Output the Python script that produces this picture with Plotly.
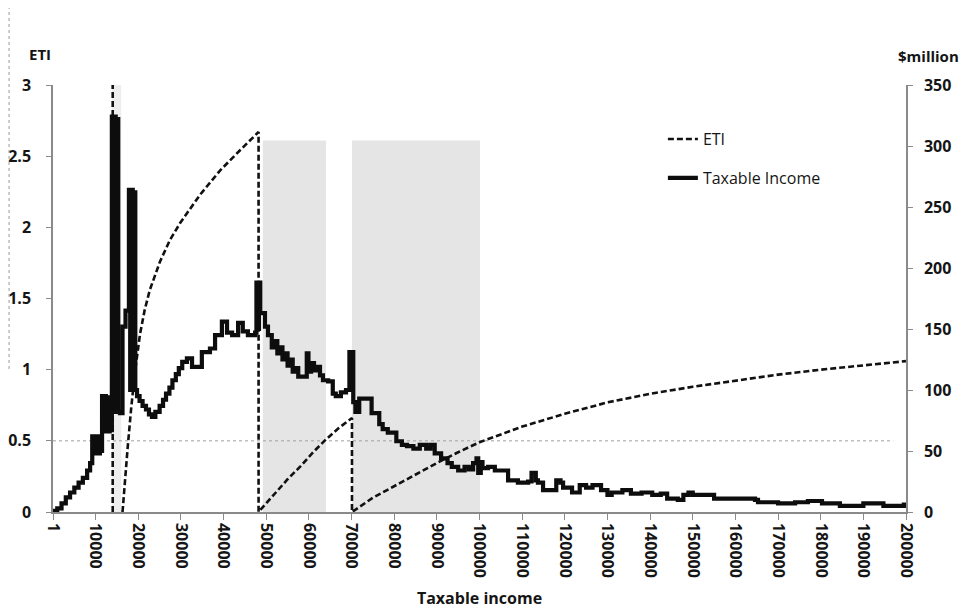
import plotly.graph_objects as go

# ETI (left axis) - dashed line, segments separated by None
eti_x = [14000, 14000, None,
         16300, 16800, 17500, 18300, 19200, 20400, 21500, 22700, 25100, 27400, 29800, 34500, 39200, 43800,
         48200, 48200,
         50000, 52000, 55000, 58000, 61000, 64000, 67000, 70100, 70100,
         75000, 79700, 85000, 90000, 95000, 100000, 110000, 120000, 130000, 140000, 150000, 160000,
         170000, 180000, 190000, 200000]
eti_y = [0, 3.1, None,
         0, 0.2, 0.45, 0.72, 0.98, 1.25, 1.42, 1.56, 1.76, 1.91, 2.03, 2.23, 2.40, 2.54,
         2.67, 0,
         0.06, 0.13, 0.23, 0.32, 0.42, 0.51, 0.59, 0.66, 0,
         0.10, 0.176, 0.265, 0.344, 0.42, 0.49, 0.60, 0.69, 0.77, 0.83, 0.88, 0.925,
         0.965, 1.0, 1.03, 1.06]

# Taxable income ($million, right axis) - step line
ti_x = [0, 1000, 2000, 3000, 4000, 5000, 6000, 7000, 8000, 8700,
        9200, 9500, 9800, 10100, 10400, 10700, 11000, 11300,
        11500, 11800, 12100, 12400, 12700, 13000, 13300, 13600,
        13800, 14100, 14400, 14700, 15000, 15300, 15700,
        16300, 17000, 17800, 18100, 18400, 18700, 19000, 19300, 19700,
        20300, 21000, 21800, 22500, 23200, 24000, 25000, 25800, 26500, 27300, 28000, 28800,
        29500, 30300, 31400, 32600, 33800, 34900, 36800, 38000, 39600, 40800, 42000, 43400,
        44500, 45700, 47400, 47700, 48000, 48300, 48600,
        49000, 49700, 50400, 51300, 52000, 52600, 53200, 53800, 54400, 55000, 55600, 56200,
        56800, 57500, 59000, 59500, 59900, 60500, 61200, 61900, 62600, 63300, 64500, 65600,
        66300, 67500, 68700, 69500, 69800, 70100, 70400, 70900, 71800, 74700, 76500, 77300,
        78500, 80500, 81800, 83000, 84500, 86000, 87500, 88500, 89500, 91000, 92500, 93500,
        95000, 96500, 97500, 98500, 99300, 99700, 100300, 100700, 102000, 103600, 106700,
        109000, 111400, 112200, 113200, 113700, 114900, 117000, 118000, 119000, 119600,
        121700, 123500, 125000, 126500, 128500, 130000, 131000, 133500, 135500, 138000,
        140500, 142500, 144000, 146500, 147800, 149000, 150000, 155000, 164600, 165300,
        170000, 174000, 177000, 180300, 184500, 190000, 194700, 199500, 200000]
ti_y = [1, 3, 7, 12, 16, 20, 24, 28, 34, 40,
        62, 48, 62, 48, 62, 48, 62, 50,
        95, 66, 95, 66, 94, 66, 92, 67,
        324, 82, 324, 82, 322, 82, 81,
        152, 165, 264, 100, 264, 100, 262, 100, 95,
        91, 87, 84, 80, 78, 82, 87, 92, 97, 102, 108, 113,
        118, 123, 126, 119, 119, 131, 134, 145, 156, 147, 145, 155,
        148, 145, 147, 188, 150, 188, 163,
        163, 152, 145, 135, 140, 130, 135, 125, 130, 120, 125, 115,
        118, 111, 111, 130, 115, 122, 116, 119, 112, 108, 107, 97,
        95, 98, 100, 131, 108, 131, 90, 82, 93, 81, 72, 68,
        65, 58, 55, 54, 52, 55, 52, 55, 48, 44, 40, 37,
        34, 37, 35, 40, 44, 32, 41, 36, 37, 34, 26,
        24, 25, 32, 26, 24, 18, 18, 26, 24, 20,
        16, 22, 20, 22, 18, 14, 16, 18, 15, 16,
        14, 15, 11, 10, 14, 16, 14, 11, 10, 8,
        7, 8, 9, 7, 5, 7, 5, 6, 6]

# shaded income bands (x0, x1, top ETI value)
band_x0 = [13900, 49200, 70100]
band_x1 = [16000, 64000, 100100]
band_top = [3.0, 2.61, 2.61]
band_col = ["#eeeeee", "#e5e5e5", "#e5e5e5"]

tick_vals = [1] + [i * 10000 for i in range(1, 21)]
tick_text = ["1"] + [str(v) for v in tick_vals[1:]]

txt = "#151515"
fontfam = "Open Sans, Lato, sans-serif"
axcol = "#8a8a8a"

fig = go.Figure()
fig.add_trace(go.Scatter(
    x=eti_x, y=eti_y, name="ETI", mode="lines",
    line=dict(color="#111111", width=2.6, dash="6px,3px"),
    connectgaps=False, legendgroup="a", yaxis="y"))
fig.add_trace(go.Scatter(
    x=ti_x, y=ti_y, name="Taxable Income", mode="lines",
    line=dict(color="#0d0d0d", width=4.2, shape="hv"),
    legendgroup="b", yaxis="y2"))

shapes = []
for a, b, t, c in zip(band_x0, band_x1, band_top, band_col):
    shapes.append(dict(type="rect", xref="x", yref="y", x0=a, x1=b, y0=0, y1=t,
                       fillcolor=c, line=dict(width=0), layer="below"))
shapes.append(dict(type="line", xref="x", yref="y", x0=0, x1=197000, y0=0.5, y1=0.5,
                   line=dict(color="#a0a0a0", width=1, dash="dot"), layer="below"))
shapes.append(dict(type="line", xref="paper", yref="paper", x0=-0.0515, x1=-0.0515,
                   y0=0.335, y1=1.18, line=dict(color="#999999", width=1, dash="dot")))

fig.update_layout(
    width=967, height=610,
    margin=dict(l=45, r=69, t=77, b=106),
    paper_bgcolor="white", plot_bgcolor="white",
    font=dict(family=fontfam, color=txt, size=16),
    shapes=shapes,
    showlegend=True,
    legend=dict(x=0.715, y=0.913, xanchor="left", yanchor="top",
                bgcolor="rgba(0,0,0,0)", tracegroupgap=15,
                font=dict(size=16, family=fontfam, color=txt)),
    xaxis=dict(range=[0, 200000], tickvals=tick_vals, ticktext=tick_text, tickangle=90,
               showgrid=False, zeroline=False, showline=True, linecolor=axcol, linewidth=1.5,
               ticks="outside", ticklen=6, tickcolor=axcol, automargin=False,
               tickfont=dict(size=16, weight="bold", color=txt),
               title=dict(text="Taxable income", font=dict(size=16, weight="bold", color=txt),
                          standoff=16)),
    yaxis=dict(range=[0, 3], tickvals=[0, 0.5, 1, 1.5, 2, 2.5, 3],
               ticktext=["0", "0.5", "1", "1.5", "2", "2.5", "3"],
               showgrid=False, zeroline=False, showline=True, linecolor=axcol, linewidth=1.5,
               ticks="outside", ticklen=5, tickcolor=axcol, automargin=False,
               ticklabelstandoff=12,
               tickfont=dict(size=16, weight="bold", color=txt)),
    yaxis2=dict(range=[0, 350], tickvals=[0, 50, 100, 150, 200, 250, 300, 350],
                overlaying="y", side="right",
                showgrid=False, zeroline=False, showline=True, linecolor=axcol, linewidth=1.5,
                ticks="outside", ticklen=5, tickcolor=axcol, automargin=False,
                ticklabelstandoff=8,
                tickfont=dict(size=16, weight="bold", color=txt)),
    annotations=[
        dict(text="ETI", xref="paper", yref="paper", x=0.0, y=1.045, xanchor="right",
             yanchor="bottom", showarrow=False, font=dict(size=15, weight="bold", color=txt)),
        dict(text="$million", xref="paper", yref="paper", x=1.026, y=1.04, xanchor="center",
             yanchor="bottom", showarrow=False, font=dict(size=15, weight="bold", color=txt)),
    ],
)

fig.write_html("out.html")
